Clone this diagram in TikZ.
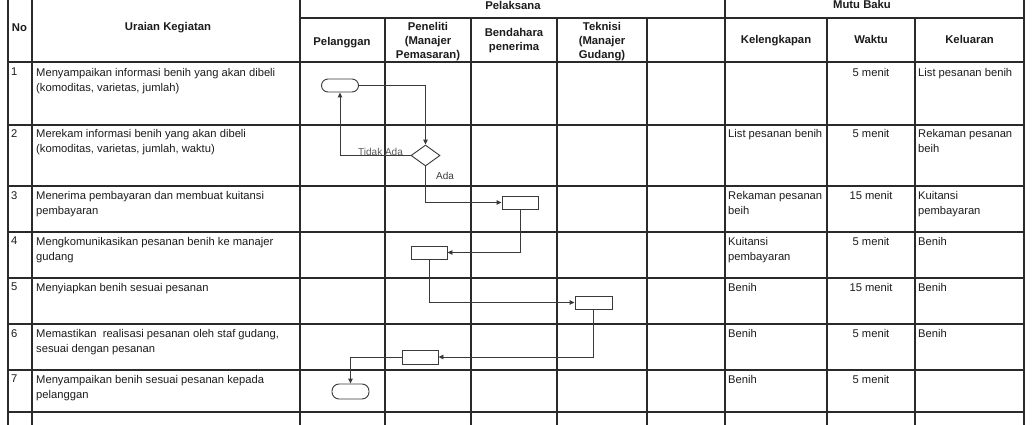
\documentclass[tikz,border=0pt]{standalone}
\usepackage{fontspec}
\setmainfont{Liberation Sans}
\usetikzlibrary{shapes.geometric,arrows.meta}
\definecolor{gridc}{HTML}{2A2A2A}
\definecolor{flowc}{HTML}{3A3A3A}
\definecolor{txtc}{HTML}{1C1C1C}
\definecolor{lblc}{HTML}{5A5A5A}
\newcommand\cellf{\fontsize{11.2}{15}\selectfont}
\newcommand\headf{\fontsize{11.3}{14}\selectfont\bfseries}
\newcommand\lblf{\fontsize{10}{12}\selectfont}
\begin{document}
\begin{tikzpicture}[x=1pt,y=-1pt,
  gridline/.style={draw=gridc,line width=1.2pt},
  cell/.style={anchor=north west,inner sep=0pt,align=left,font=\cellf,text=txtc},
  wcell/.style={anchor=north,inner sep=0pt,align=center,font=\cellf,text=txtc},
  head/.style={inner sep=0pt,align=center,font=\headf,text=txtc},
  term/.style={draw=flowc,line width=0.9pt,rounded corners=6.5pt,minimum width=37pt,minimum height=13pt,inner sep=0pt},
  procbox/.style={draw=flowc,line width=0.9pt,minimum width=36pt,minimum height=13pt,inner sep=0pt},
  decision/.style={draw=flowc,line width=0.9pt,shape=diamond,minimum width=29pt,minimum height=21pt,inner sep=0pt},
  flow/.style={draw=flowc,line width=0.9pt},
  flowarr/.style={draw=flowc,line width=0.9pt,-{Triangle[length=5pt,width=4.5pt]}},
  lbl/.style={inner sep=0pt,font=\lblf}
]
\useasboundingbox (0,0) rectangle (1035,425);
\fill[white] (0,0) rectangle (1035,425);

% ---------- grid ----------
\foreach \y in {62,125,186,232,278,324,370,412}
  \draw[gridline] (8,\y) -- (1024,\y);
\draw[gridline] (300,18) -- (1024,18);
\foreach \x in {8,32,300,725,1024}
  \draw[gridline] (\x,0) -- (\x,425);
\foreach \x in {385,471,557,647,827,915}
  \draw[gridline] (\x,18) -- (\x,425);

% ---------- headers ----------
\node[head,anchor=center] (hNo) at (19.5,28) {No};
\node[head,anchor=center] (hUr) at (168,28) {Uraian Kegiatan};
\node[head,anchor=center] (hPl) at (513,5) {Pelaksana};
\node[head,anchor=center] (hMb) at (862,4) {Mutu Baku};
\node[head,anchor=base] (hPg) at (342,45.5) {Pelanggan};
\node[head,anchor=north] (hPn) at (428,22) {Peneliti\\(Manajer\\Pemasaran)};
\node[head,anchor=north] (hBd) at (514,28) {Bendahara\\penerima};
\node[head,anchor=north] (hTk) at (602,22) {Teknisi\\(Manajer\\Gudang)};
\node[head,anchor=base] (hKl) at (776,43.5) {Kelengkapan};
\node[head,anchor=base] (hWk) at (871,43.5) {Waktu};
\node[head,anchor=base] (hKe) at (969.5,43.5) {Keluaran};

% ---------- numbers ----------
\node[cell] (n1) at (11,68) {1};
\node[cell] (n2) at (11,129) {2};
\node[cell] (n3) at (11,191) {3};
\node[cell] (n4) at (11,237) {4};
\node[cell] (n5) at (11,283) {5};
\node[cell] (n6) at (11,329) {6};
\node[cell] (n7) at (11,375) {7};

% ---------- uraian ----------
\node[cell] (u1) at (36,68) {Menyampaikan informasi benih yang akan dibeli\\(komoditas, varietas, jumlah)};
\node[cell] (u2) at (36,129) {Merekam informasi benih yang akan dibeli\\(komoditas, varietas, jumlah, waktu)};
\node[cell] (u3) at (36,191) {Menerima pembayaran dan membuat kuitansi\\pembayaran};
\node[cell] (u4) at (36,237) {Mengkomunikasikan pesanan benih ke manajer\\gudang};
\node[cell] (u5) at (36,283) {Menyiapkan benih sesuai pesanan};
\node[cell] (u6) at (36,329) {Memastikan\ \ realisasi pesanan oleh staf gudang,\\sesuai dengan pesanan};
\node[cell] (u7) at (36,375) {Menyampaikan benih sesuai pesanan kepada\\pelanggan};

% ---------- kelengkapan ----------
\node[cell] (k2) at (728,129) {List pesanan benih};
\node[cell] (k3) at (728,191) {Rekaman pesanan\\beih};
\node[cell] (k4) at (728,237) {Kuitansi\\pembayaran};
\node[cell] (k5) at (728,283) {Benih};
\node[cell] (k6) at (728,329) {Benih};
\node[cell] (k7) at (728,375) {Benih};

% ---------- waktu ----------
\node[wcell] (w1) at (871,68) {5 menit};
\node[wcell] (w2) at (871,129) {5 menit};
\node[wcell] (w3) at (871,191) {15 menit};
\node[wcell] (w4) at (871,237) {5 menit};
\node[wcell] (w5) at (871,283) {15 menit};
\node[wcell] (w6) at (871,329) {5 menit};
\node[wcell] (w7) at (871,375) {5 menit};

% ---------- keluaran ----------
\node[cell] (o1) at (918,68) {List pesanan benih};
\node[cell] (o2) at (918,129) {Rekaman pesanan\\beih};
\node[cell] (o3) at (918,191) {Kuitansi\\pembayaran};
\node[cell] (o4) at (918,237) {Benih};
\node[cell] (o5) at (918,283) {Benih};
\node[cell] (o6) at (918,329) {Benih};

% ---------- flowchart ----------
\node[term] (t1) at (340,85.5) {};
\node[decision] (d1) at (425.5,155.5) {};
\node[procbox] (b3) at (520,202.5) {};
\node[procbox] (b4) at (429,252.5) {};
\node[procbox,minimum width=37pt] (b5) at (593.5,302.5) {};
\node[procbox,minimum height=14pt] (b6) at (420,357) {};
\node[term,minimum height=15pt,rounded corners=7pt] (t2) at (350.5,391.5) {};

\draw[flowarr] (t1.east) -| (d1.north);
\draw[flowarr] (d1.west) -| (t1.south);
\draw[flowarr] (d1.south) |- (b3.west);
\draw[flowarr] (b3.south) |- (b4.east);
\draw[flowarr] (b4.south) |- (b5.west);
\draw[flowarr] (b5.south) |- (b6.east);
\draw[flowarr] (b6.west) -| (t2.north);

\node[lbl,text=lblc] (lTA) at (380.5,151.5) {Tidak Ada};
\node[lbl,text=flowc] (lA) at (445,176) {Ada};
\end{tikzpicture}
\end{document}
